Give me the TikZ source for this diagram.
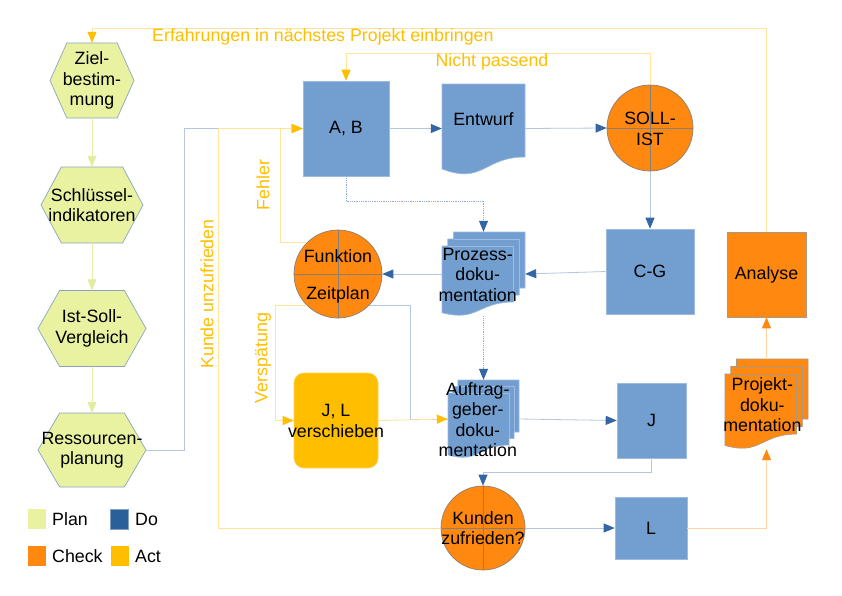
\documentclass[tikz,border=0pt]{standalone}
\usepackage{fontspec}
\setmainfont{Liberation Sans}
\usetikzlibrary{arrows.meta,calc}
\definecolor{planc}{HTML}{E8F2A1}
\definecolor{hexedge}{HTML}{8DA4BE}
\definecolor{bluec}{HTML}{729FCF}
\definecolor{blueedge}{HTML}{9DBAE0}
\definecolor{doc}{HTML}{2A6099}
\definecolor{tipblue}{HTML}{3465A4}
\definecolor{orangec}{HTML}{FF8811}
\definecolor{oedge}{HTML}{A89886}
\definecolor{cedge}{HTML}{8A7F76}
\definecolor{actc}{HTML}{FFBF00}
\definecolor{bline}{HTML}{B4C7DC}
\definecolor{yline}{HTML}{FFE49A}
\definecolor{gline}{HTML}{E6F0A8}
\definecolor{gtip}{HTML}{E2EDA0}
\definecolor{oline}{HTML}{FFD3A6}
\definecolor{dline}{HTML}{8FAADC}
\newcommand{\hexa}[6]{%
  \path[fill=planc, draw=hexedge, line width=0.7pt] ({#2-#4/2},#3) -- ({#2-0.3*#4},{#3-#5/2}) -- ({#2+0.3*#4},{#3-#5/2}) -- ({#2+#4/2},#3) -- ({#2+0.3*#4},{#3+#5/2}) -- ({#2-0.3*#4},{#3+#5/2}) -- cycle;
  \node[inner sep=0pt, minimum width=#4, minimum height=#5] (#1) at (#2,#3) {};
  \node[txt] (#1-t) at (#2,#3) {#6};}
\newcommand{\mdoc}[9]{% name x0 y0 w h fill edge textx text
  \begin{scope}[shift={(#2,#3)}, x=#4pt, y=-#5pt]
    \path[fill=#6, draw=#7, line width=0.6pt] (0,.1667) -- (.0694,.1667) -- (.0694,.0833) -- (.1389,.0833) -- (.1389,0) -- (1,0) -- (1,.6671) -- (.9306,.6671) -- (.9306,.7504) -- (.8611,.7504) -- (.8611,.8338) .. controls (.4306,.8338) and (.4306,1.0745) .. (0,.9606) -- cycle;
    \draw[#7, line width=0.6pt] (.0694,.1667) -- (.8611,.1667) -- (.8611,.7504) (.1389,.0833) -- (.9306,.0833) -- (.9306,.6671);
  \end{scope}
  \node[inner sep=0pt, minimum width=#4, minimum height=#5] (#1) at ({#2+#4/2},{#3+#5/2}) {};
  \node[txt] (#1-t) at ({#2+#8*#4},{#3+0.51*#5}) {#9};}
\begin{document}
\begin{tikzpicture}[x=1pt,y=-1pt,
  font=\fontsize{17.8}{20.3}\selectfont,
  txt/.style={inner sep=0pt, align=center, text=black},
  lbl/.style={inner sep=0pt, text=actc},
  boxb/.style={rectangle, fill=bluec, draw=blueedge, line width=0.6pt, inner sep=0pt, align=center},
  boxo/.style={rectangle, fill=orangec, draw=oedge, line width=0.6pt, inner sep=0pt, align=center},
  circ/.style={circle, fill=orangec, draw=cedge, line width=0.7pt, inner sep=0pt, minimum size=#1,
    path picture={\draw[cedge, line width=0.6pt] (path picture bounding box.north) -- (path picture bounding box.south) (path picture bounding box.west) -- (path picture bounding box.east);}},
  sq/.style={rectangle, inner sep=0pt, minimum width=18pt, minimum height=20pt},
  bconn/.style={draw=bline, line width=0.8pt, -{Triangle[length=11pt,width=9pt,color=tipblue]}},
  bline0/.style={draw=bline, line width=0.8pt},
  dconn/.style={draw=dline, line width=0.8pt, densely dotted, -{Triangle[length=11pt,width=9pt,color=tipblue]}},
  yconn/.style={draw=yline, line width=0.8pt, -{Triangle[length=11pt,width=9pt,color=actc]}},
  gconn/.style={draw=gline, line width=0.8pt, -{Triangle[length=11pt,width=9pt,color=gtip]}},
  oconn/.style={draw=oline, line width=0.8pt, -{Triangle[length=11pt,width=9pt,color=orangec]}},
]
\fill[white] (0,0) rectangle (842,595);
\useasboundingbox (0,0) rectangle (842,595);

% Plan hexagons
\hexa{ziel}{92}{80.5}{84}{75}{Ziel-\\bestim-\\mung}
\hexa{schl}{92}{205}{102}{76}{Schlüssel-\\indikatoren}
\hexa{ist}{92}{328.5}{108}{76}{Ist-Soll-\\Vergleich}
\hexa{res}{92}{450}{108}{74}{Ressourcen-\\planung}

% Do boxes
\node[boxb, minimum width=86, minimum height=95] (ab) at (346,128.5) {A, B};
\begin{scope}[shift={(442,84)}, x=83pt, y=-91pt]
  \path[fill=bluec, draw=blueedge, line width=0.6pt] (0,0) -- (1,0) -- (1,.802) .. controls (.5,.802) and (.5,1.1075) .. (0,.934) -- cycle;
\end{scope}
\node[inner sep=0pt, minimum width=83, minimum height=91] (entw) at (483.5,129.5) {};
\node[txt] (entw-t) at (483.5,119) {Entwurf};
\node[boxb, minimum width=88, minimum height=85] (cg) at (650,271.5) {C-G};
\node[boxb, minimum width=69, minimum height=75] (j) at (651.5,420.5) {J};
\node[boxb, minimum width=72, minimum height=62] (l) at (651,528) {L};
\mdoc{proz}{442}{232}{83}{84}{bluec}{blueedge}{0.43}{Prozess-\\doku-\\mentation}
\mdoc{auft}{448}{380}{71}{78}{bluec}{blueedge}{0.42}{Auftrag-\\geber-\\doku-\\mentation}

% Check
\node[circ=86] (soll) at (650,128) {};
\node[txt] (soll-t) at (650,129) {SOLL-\\IST};
\node[circ=88] (funk) at (338,274) {};
\node[txt] (funk-t1) at (338,256) {Funktion};
\node[txt] (funk-t2) at (338,295) {Zeitplan};
\node[circ=84] (kund) at (483,528) {};
\node[txt] (kund-t) at (483,528) {Kunden\\zufrieden?};
\node[boxo, minimum width=79, minimum height=85] (analyse) at (766.5,274.5) {Analyse};
\mdoc{proj}{725}{359}{83}{90}{orangec}{oedge}{0.45}{Projekt-\\doku-\\mentation}

% Act
\node[rectangle, rounded corners=10pt, fill=actc, draw=actc!70!white, line width=0.6pt, minimum width=84, minimum height=95, inner sep=0pt] (jl) at (336,420.5) {};
\node[txt] (jl-t) at (336,421) {J, L\\verschieben};

% helper coordinates
\coordinate (c-er) at (0,28);
\coordinate (c-np) at (0,53);
\coordinate (c-re) at (184,0);
\coordinate (c-ku) at (218,0);
\coordinate (c-fe) at (280,0);
\coordinate (c-ve) at (275,0);
\coordinate (c-za) at (410,0);
\coordinate (c-ap) at (0,201);
\coordinate (c-jk) at (0,472);

% Plan connectors
\draw[gconn] (ziel.south) -- (schl.north);
\draw[gconn] (schl.south) -- (ist.north);
\draw[gconn] (ist.south) -- (res.north);

% blue connectors
\draw[bline0] (res.east) -| (c-re |- ab.west) -- (ab.west);
\draw[bline0] (funk.south east) -| (c-za |- auft.west) -- (auft.west);
\draw[bconn] (ab.east) -- (ab.east -| entw.west);
\draw[bconn] (ab.east -| entw.east) -- (soll.west);
\draw[bconn] (soll.south) -- (cg.north);
\draw[bconn] (cg.west) -- (proz.east);
\draw[bconn] (proz.west) -- (funk.east);
\draw[dconn] (ab.south) -- (ab.south |- c-ap) -| (proz.north);
\draw[dconn] (proz.south) -- (auft.north);
\draw[bconn] (auft.east) -- (j.west);
\draw[bconn] (j.south) -- (j.south |- c-jk) -| (kund.north);
\draw[bconn] (kund.east) -- (l.west);

% yellow connectors
\draw[yconn] (kund.west) -| (c-ku |- ab.west) -- (ab.west);
\draw[yconn] (funk.north west) -| (c-fe |- ab.west) -- (ab.west);
\draw[yconn] (funk.south west) -| (c-ve |- jl.west) -- (jl.west);
\draw[yconn] (jl.east) -- (auft.west);
\draw[yconn] (soll.north) -- (soll.north |- c-np) -| (ab.north);
\draw[yconn] (analyse.north) -- (analyse.north |- c-er) -| (ziel.north);

% orange connectors
\draw[oconn] (l.east) -| (proj.south);
\draw[oconn] (proj.north) -- (analyse.south);

% labels
\node[lbl, anchor=west] (lb-erf) at (152,37) {Erfahrungen in nächstes Projekt einbringen};
\node[lbl] (lb-np) at (492,62) {Nicht passend};
\node[lbl, rotate=90] (lb-fe) at (263,185) {Fehler};
\node[lbl, rotate=90] (lb-ku) at (207,294) {Kunde unzufrieden};
\node[lbl, rotate=90] (lb-ve) at (263,358) {Verspätung};

% legend
\node[sq, fill=planc] (lg-plan) at (37,519) {};
\node[txt, anchor=west] (lg-plan-t) at (52,519) {Plan};
\node[sq, fill=doc, draw=doc!60!white, line width=0.5pt] (lg-do) at (119.5,519) {};
\node[txt, anchor=west] (lg-do-t) at (135,519) {Do};
\node[sq, fill=orangec] (lg-check) at (37,556) {};
\node[txt, anchor=west] (lg-check-t) at (52,556) {Check};
\node[sq, fill=actc] (lg-act) at (119.5,556) {};
\node[txt, anchor=west] (lg-act-t) at (135,556) {Act};
\end{tikzpicture}
\end{document}
